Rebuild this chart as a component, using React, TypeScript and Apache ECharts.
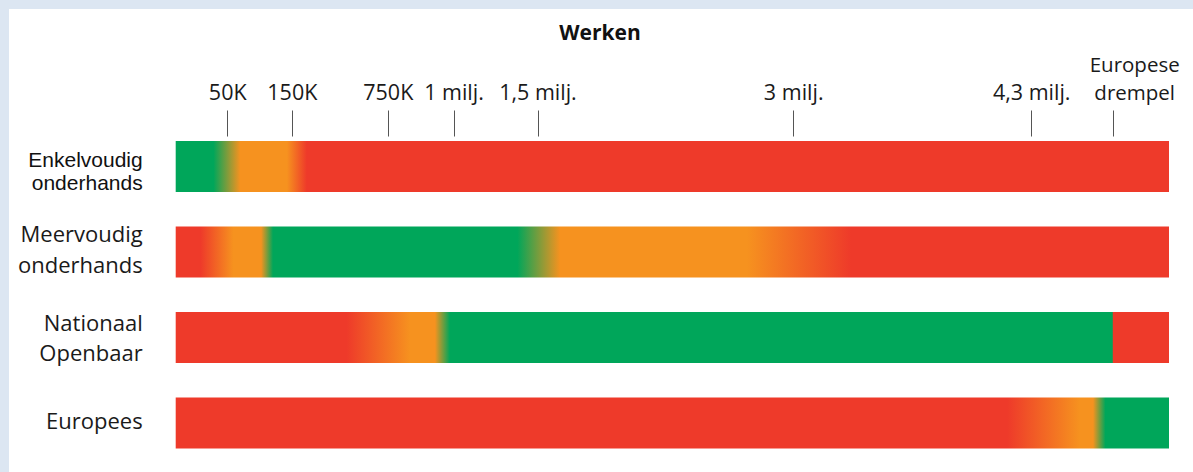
import React, { useEffect, useRef } from 'react';
import * as echarts from 'echarts';

// Rows (categories) of the chart
const categories = ['Enkelvoudig\nonderhands', 'Meervoudig\nonderhands', 'Nationaal\nOpenbaar', 'Europees'];

// Tick labels along the (schematic) contract-value scale, positions in % of bar length
const tickLabels = ['50K', '150K', '750K', '1 milj.', '1,5 milj.', '3 milj.', '4,3 milj.', 'Europese\ndrempel'];
const tickPositions = [5.24, 11.74, 21.4, 28.02, 36.47, 62.22, 86.18, 94.43];

// Colours
const G = '#00A65A';
const O = '#F6921F';
const R = '#EE3A2A';

// Colour stops per row: [position on scale (0-100), colour]
const enkelvoudigStops: [number, string][] = [[0, G], [3.8, G], [6.5, O], [11.2, O], [13.2, R], [100, R]];
const meervoudigStops: [number, string][] = [[0, R], [2.5, R], [5.8, O], [8.6, O], [9.8, G], [34.4, G], [38.7, O], [57.5, O], [68.0, R], [100, R]];
const nationaalStops: [number, string][] = [[0, R], [17.2, R], [23.6, O], [26.1, O], [27.6, G], [94.3, G], [94.35, R], [100, R]];
const europeesStops: [number, string][] = [[0, R], [83.7, R], [91.0, O], [92.35, O], [93.6, G], [100, G]];

const rowStops = [enkelvoudigStops, meervoudigStops, nationaalStops, europeesStops];
const scaleMax = 100;

export default function App() {
  const ref = useRef<HTMLDivElement>(null);
  useEffect(() => {
    const chart = echarts.init(ref.current!, null, { renderer: 'svg' });
    const labelFor = (value: number) => {
      let best = 0;
      let bd = Infinity;
      tickPositions.forEach((p, i) => {
        const d = Math.abs(p - value);
        if (d < bd) { bd = d; best = i; }
      });
      return tickLabels[best];
    };
    const singleLineTicks = tickPositions.filter((_, i) => tickLabels[i].indexOf('\n') < 0);
    const multiLineTicks = tickPositions.filter((_, i) => tickLabels[i].indexOf('\n') >= 0);
    const baseAxis = {
      type: 'value',
      position: 'top',
      min: 0,
      max: scaleMax,
      offset: -12.8,
      splitLine: { show: false },
      axisLine: { show: false },
    };
    chart.setOption({
      animation: false,
      backgroundColor: '#ffffff',
      graphic: [
        { type: 'rect', silent: true, z: -10, shape: { x: 0, y: 0, width: 1193, height: 9 }, style: { fill: '#DCE6F2' } },
        { type: 'rect', silent: true, z: -10, shape: { x: 0, y: 0, width: 9, height: 472 }, style: { fill: '#DCE6F2' } },
      ],
      title: {
        text: 'Werken',
        left: 595,
        top: 16,
        textAlign: 'center',
        textStyle: { fontFamily: 'Open Sans', fontSize: 21, fontWeight: 'bold', color: '#111111' },
      },
      grid: { left: 175.7, right: 24, top: 123.7, height: 342 },
      xAxis: [
        {
          ...baseAxis,
          axisTick: { show: true, customValues: tickPositions, length: 26, inside: false, lineStyle: { color: '#555555', width: 1 } },
          axisLabel: {
            show: true,
            customValues: singleLineTicks,
            margin: 31,
            formatter: (v: number) => `{t|${labelFor(v)}}`,
            rich: {
              t: { fontFamily: 'Open Sans', fontSize: 21.5, lineHeight: 28, color: '#1a1a1a' },
            },
          },
        },
        {
          ...baseAxis,
          axisTick: { show: false },
          axisLabel: {
            show: true,
            customValues: multiLineTicks,
            margin: 31,
            formatter: (v: number) => labelFor(v).split('\n').map((l) => `{eu|${l}}`).join('\n'),
            rich: {
              eu: { fontFamily: 'Open Sans', fontSize: 20.5, lineHeight: 28, color: '#1a1a1a', padding: [0, 0, 0, 42] },
            },
          },
        },
      ],
      yAxis: {
        type: 'category',
        data: categories,
        inverse: true,
        axisLine: { show: false },
        axisTick: { show: false },
        splitLine: { show: false },
        axisLabel: {
          margin: 33,
          formatter: (v: string, idx: number) => {
            const lines = v.split('\n');
            if (idx === 0) return ['{padTop| }', ...lines.map((l) => `{e|${l}}`)].join('\n');
            if (idx === 1) return [...lines.map((l) => `{m|${l}}`), '{padBot2| }'].join('\n');
            if (idx === 3) return [...lines.map((l) => `{r|${l}}`), '{padBot4| }'].join('\n');
            return lines.map((l) => `{r|${l}}`).join('\n');
          },
          rich: {
            padTop: { fontSize: 8, lineHeight: 10 },
            padBot2: { fontSize: 6, lineHeight: 7 },
            padBot4: { fontSize: 5, lineHeight: 6 },
            e: { fontFamily: 'Liberation Sans', fontSize: 21, lineHeight: 23, color: '#111111', align: 'right' },
            m: { fontFamily: 'Open Sans', fontSize: 22, lineHeight: 31, color: '#1a1a1a', align: 'right' },
            r: { fontFamily: 'Open Sans', fontSize: 22, lineHeight: 30, color: '#1a1a1a', align: 'right' },
          },
        },
      },
      series: [
        {
          type: 'bar',
          silent: true,
          barWidth: 51,
          xAxisIndex: 0,
          data: rowStops.map((stops) => ({
            value: scaleMax,
            itemStyle: {
              color: new echarts.graphic.LinearGradient(
                0, 0, 1, 0,
                stops.map(([p, c]) => ({ offset: p / scaleMax, color: c }))
              ),
            },
          })),
        },
      ],
    });
    return () => chart.dispose();
  }, []);
  return (
    <div
      ref={ref}
      style={{ position: 'absolute', left: 0, top: 0, width: 1193, height: 472, background: '#ffffff' }}
    />
  );
}
